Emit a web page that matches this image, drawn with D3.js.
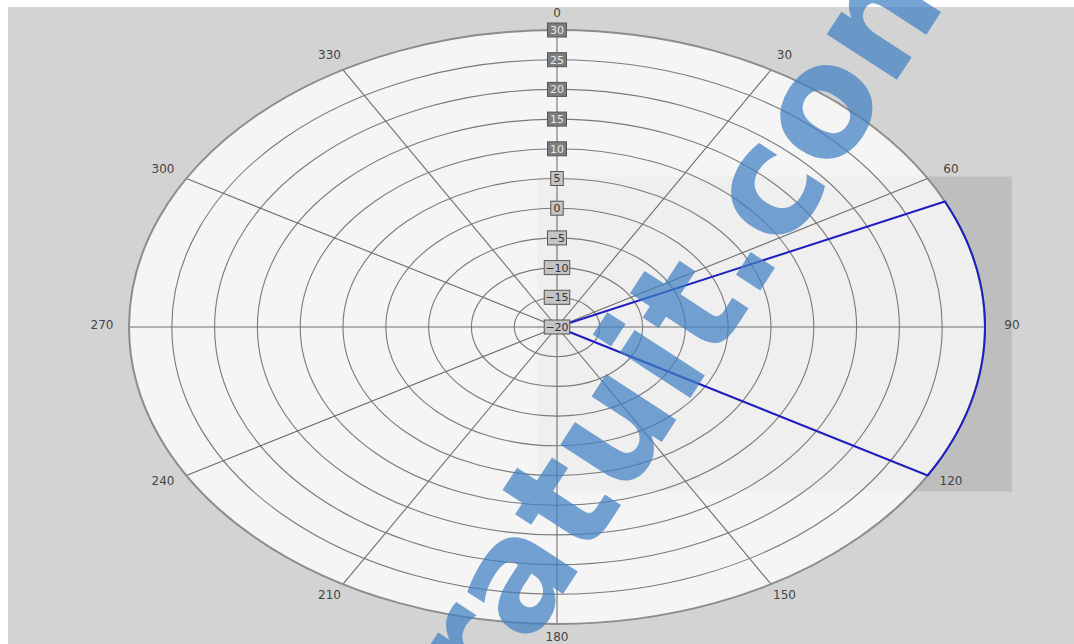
<!DOCTYPE html>
<html lang="en">
<head>
  <meta charset="UTF-8">
  <title>Polar plot</title>
  <style>
    * { box-sizing: border-box; margin: 0; padding: 0; }
    body { background: #fff; width: 1074px; height: 644px; overflow: hidden; }
    svg { display: block; font-family: "DejaVu Sans", sans-serif; }
  </style>
</head>
<body>
  <svg></svg>
  <script src="https://d3js.org/d3.v7.min.js"></script>
  <script>
    // radial ticks (value labels on the 0 deg spoke)
    const radialTicks = [-20, -15, -10, -5, 0, 5, 10, 15, 20, 25, 30];
    // angle ticks, degrees clockwise from north
    const angleTicks = [0, 30, 60, 90, 120, 150, 180, 210, 240, 270, 300, 330];
    // the blue sector: start angle, end angle, value
    const sectorStart = [65];
    const sectorEnd = [120];
    const sectorValue = [30];
    // highlighted angular band
    const bandAngles = [60, 120];
    const watermark = ['gratuit.com'];

    const width = 1074;
    const height = 644;
    const cx = 557, cy = 327;
    const rx = 428, ry = 297;

    const svg = d3.select('svg')
      .attr('width', width)
      .attr('height', height);

    const rScale = d3.scaleLinear().domain([-20, 30]).range([0, 1]);
    const aScale = d3.scaleLinear().domain([0, 360]).range([0, 2 * Math.PI]);

    const px = (a, v) => cx + rx * rScale(v) * Math.sin(aScale(a));
    const py = (a, v) => cy - ry * rScale(v) * Math.cos(aScale(a));

    // background panel
    svg.append('rect')
      .attr('x', 8).attr('y', 7)
      .attr('width', width - 8).attr('height', height - 7)
      .attr('fill', '#d3d3d3');

    // highlight band box (under the disc)
    const labRx = 1.063;
    const bx0 = cx - 20;
    const bx1 = cx + rx * labRx;
    const by0 = cy - ry * 1.06 * Math.cos(aScale(bandAngles[0])) + 7;
    const by1 = cy - ry * 1.06 * Math.cos(aScale(bandAngles[1])) + 7;
    svg.append('rect')
      .attr('x', bx0).attr('y', by0)
      .attr('width', bx1 - bx0).attr('height', by1 - by0)
      .attr('fill', '#c3c3c3');

    // plot disc
    svg.append('ellipse')
      .attr('cx', cx).attr('cy', cy)
      .attr('rx', rx).attr('ry', ry)
      .attr('fill', '#f5f5f5');

    // faint band overlay on the disc
    svg.append('rect')
      .attr('x', bx0).attr('y', by0)
      .attr('width', bx1 - bx0).attr('height', by1 - by0)
      .attr('fill', 'rgba(0,0,0,0.025)');

    // rings
    svg.append('g')
      .selectAll('ellipse')
      .data(radialTicks.filter(d => d > -20 && d < 30))
      .join('ellipse')
      .attr('cx', cx).attr('cy', cy)
      .attr('rx', d => rx * rScale(d))
      .attr('ry', d => ry * rScale(d))
      .attr('fill', 'none')
      .attr('stroke', '#7a7a7a')
      .attr('stroke-width', 1.1);

    // spokes
    svg.append('g')
      .selectAll('line')
      .data(angleTicks)
      .join('line')
      .attr('x1', cx).attr('y1', cy)
      .attr('x2', d => px(d, 30))
      .attr('y2', d => py(d, 30))
      .attr('stroke', '#6e6e6e')
      .attr('stroke-width', 1.1);

    // outer border
    svg.append('ellipse')
      .attr('cx', cx).attr('cy', cy)
      .attr('rx', rx).attr('ry', ry)
      .attr('fill', 'none')
      .attr('stroke', '#8c8c8c')
      .attr('stroke-width', 2);

    // sector
    const steps = d3.range(sectorStart[0], sectorEnd[0] + 0.001, 1);
    const line = d3.line().x(d => d[0]).y(d => d[1]);
    const pts = [[cx, cy]]
      .concat(steps.map(a => [px(a, sectorValue[0]), py(a, sectorValue[0])]))
      .concat([[cx, cy]]);
    svg.append('path')
      .attr('d', line(pts))
      .attr('fill', 'none')
      .attr('stroke', '#1f1fbf')
      .attr('stroke-width', 2)
      .attr('stroke-linejoin', 'miter');

    // angle labels
    svg.append('g')
      .selectAll('text')
      .data(angleTicks)
      .join('text')
      .attr('x', d => cx + rx * labRx * Math.sin(aScale(d)))
      .attr('y', d => cy - 2 - (ry + 15) * Math.cos(aScale(d)))
      .attr('dy', '0.35em')
      .attr('text-anchor', 'middle')
      .attr('font-size', 12)
      .attr('fill', '#444')
      .text(d => d);

    // radial value labels in boxes
    const rl = svg.append('g')
      .selectAll('g')
      .data(radialTicks)
      .join('g')
      .attr('transform', d => 'translate(' + cx + ',' + py(0, d) + ')');

    rl.append('rect')
      .attr('x', d => -(String(d).length * 6.5 + 6) / 2)
      .attr('y', -7)
      .attr('width', d => String(d).length * 6.5 + 6)
      .attr('height', 14)
      .attr('fill', d => d >= 10 ? '#7c7c7c' : '#c4c4c4')
      .attr('stroke', '#555')
      .attr('stroke-width', 1);

    rl.append('text')
      .attr('text-anchor', 'middle')
      .attr('dy', '0.36em')
      .attr('font-size', 11)
      .attr('fill', d => d >= 10 ? '#e8e8e8' : '#333')
      .text(d => String(d).replace('-', '\u2212'));

    // watermark
    svg.append('text')
      .attr('transform', 'translate(702,380) rotate(-57)')
      .attr('text-anchor', 'middle')
      .attr('font-family', '"DejaVu Sans", sans-serif')
      .attr('font-weight', 'bold')
      .attr('font-size', 153)
      .attr('fill', '#3f7fc4')
      .attr('fill-opacity', 0.72)
      .text(watermark[0]);
  </script>
</body>
</html>
